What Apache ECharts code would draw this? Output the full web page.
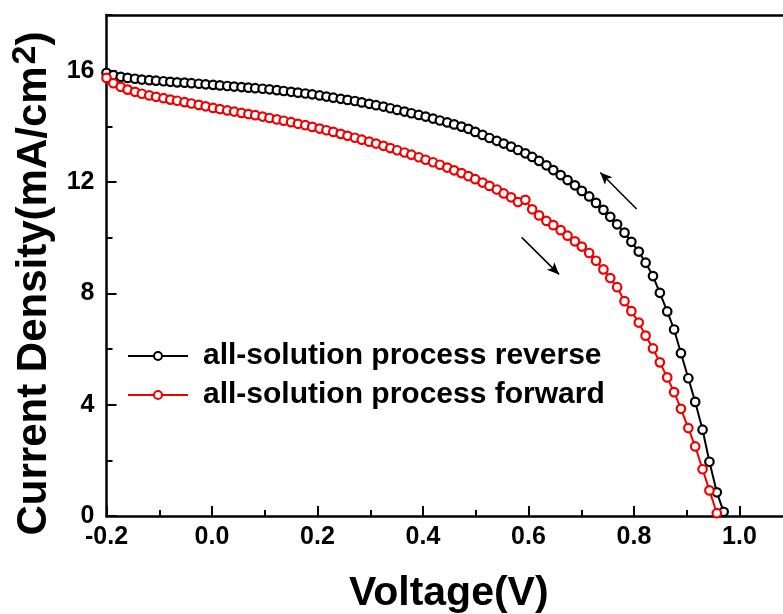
<!DOCTYPE html>
<html>
<head>
<meta charset="utf-8">
<script src="https://cdn.jsdelivr.net/npm/echarts@6/dist/echarts.min.js"></script>
<style>
  html, body { margin: 0; padding: 0; background: #fff; overflow: hidden; }
  #chart { width: 783px; height: 614px; }
</style>
</head>
<body>
<div id="chart"></div>
<script>
// Voltage sweep points (V)
const voltage = [
  -0.200, -0.187, -0.173, -0.160, -0.146, -0.133, -0.119, -0.106, -0.092, -0.079,
  -0.066, -0.052, -0.039, -0.025, -0.012, 0.002, 0.015, 0.029, 0.042, 0.056,
  0.069, 0.082, 0.096, 0.109, 0.123, 0.136, 0.150, 0.163, 0.177, 0.190,
  0.204, 0.217, 0.230, 0.244, 0.257, 0.271, 0.284, 0.298, 0.311, 0.325,
  0.338, 0.351, 0.365, 0.378, 0.392, 0.405, 0.419, 0.432, 0.446, 0.459,
  0.473, 0.486, 0.499, 0.513, 0.526, 0.540, 0.553, 0.567, 0.580, 0.594,
  0.607, 0.620, 0.634, 0.647, 0.661, 0.674, 0.688, 0.701, 0.715, 0.728,
  0.742, 0.755, 0.768, 0.782, 0.795, 0.809, 0.822, 0.836, 0.849, 0.863,
  0.876, 0.889, 0.903, 0.916, 0.930, 0.943, 0.957, 0.970
];

// Current density (mA/cm2), reverse scan
const reverseJ = [
  15.92, 15.84, 15.78, 15.74, 15.71, 15.68, 15.66, 15.64, 15.62, 15.60,
  15.58, 15.57, 15.55, 15.53, 15.51, 15.49, 15.47, 15.45, 15.43, 15.41,
  15.39, 15.37, 15.35, 15.33, 15.30, 15.27, 15.24, 15.21, 15.18, 15.15,
  15.11, 15.07, 15.03, 14.99, 14.95, 14.91, 14.86, 14.81, 14.76, 14.71,
  14.65, 14.59, 14.53, 14.47, 14.41, 14.35, 14.28, 14.21, 14.14, 14.07,
  13.99, 13.91, 13.80, 13.69, 13.58, 13.48, 13.38, 13.27, 13.15, 13.03,
  12.90, 12.76, 12.60, 12.43, 12.25, 12.07, 11.88, 11.68, 11.48, 11.25,
  11.00, 10.75, 10.48, 10.18, 9.85, 9.50, 9.10, 8.62, 8.02, 7.35,
  6.70, 5.85, 4.95, 4.10, 3.10, 1.95, 0.85, 0.15
];

// Current density (mA/cm2), forward scan
const forwardJ = [
  15.74, 15.55, 15.42, 15.32, 15.24, 15.17, 15.11, 15.06, 15.01, 14.96,
  14.92, 14.87, 14.82, 14.77, 14.72, 14.66, 14.62, 14.57, 14.53, 14.48,
  14.44, 14.40, 14.35, 14.30, 14.25, 14.20, 14.15, 14.09, 14.04, 13.98,
  13.92, 13.86, 13.80, 13.73, 13.66, 13.59, 13.52, 13.45, 13.38, 13.30,
  13.22, 13.14, 13.06, 12.98, 12.89, 12.80, 12.71, 12.62, 12.52, 12.42,
  12.32, 12.21, 12.10, 11.98, 11.86, 11.73, 11.59, 11.45, 11.28, 11.36,
  11.02, 10.80, 10.60, 10.45, 10.27, 10.07, 9.87, 9.68, 9.45, 9.17,
  8.86, 8.55, 8.22, 7.72, 7.36, 6.95, 6.48, 6.02, 5.52, 4.98,
  4.45, 3.85, 3.16, 2.50, 1.68, 0.92, 0.10
];

const seriesNames = ['all-solution process reverse', 'all-solution process forward'];

// Scan-direction arrows: [tail, head] in (V, mA/cm2)
const arrowReverse = [[0.805, 11.03], [0.736, 12.34]];
const arrowForward = [[0.587, 10.01], [0.658, 8.68]];

const FONT = 'Arial, "Liberation Sans", Helvetica, sans-serif';

function pairs(xs, ys) {
  return ys.map((y, i) => [xs[i], y]);
}

const chart = echarts.init(document.getElementById('chart'), null, { renderer: 'canvas' });

const axisLineStyle = { color: '#000', width: 2.5 };

chart.setOption({
  animation: false,
  backgroundColor: '#fff',
  // plot frame runs past the right edge of the canvas
  grid: {
    left: 106.5, width: 738.5, top: 15, bottom: 98,
    containLabel: false, outerBoundsMode: 'none'
  },
  legend: {
    orient: 'vertical',
    left: 127,
    top: 341,
    padding: 0,
    itemWidth: 60,
    itemHeight: 10,
    itemGap: 9,
    data: seriesNames,
    textStyle: {
      fontFamily: FONT, fontWeight: 'bold', fontSize: 30, color: '#000',
      padding: [0, 0, 0, 10]
    }
  },
  xAxis: [
    {
      type: 'value', gridIndex: 0, position: 'bottom',
      min: -0.2, max: 1.2, interval: 0.2,
      name: 'Voltage(V)', nameLocation: 'middle', nameGap: 57,
      nameTextStyle: {
        fontFamily: FONT, fontWeight: 'bold', fontSize: 41, color: '#000',
        padding: [0, 54, 0, 0]
      },
      axisLine: { show: true, onZero: false, lineStyle: axisLineStyle },
      axisTick: { show: true, inside: true, length: 10, lineStyle: { color: '#000', width: 2 } },
      minorTick: { show: true, splitNumber: 2, length: 6, lineStyle: { color: '#000', width: 2 } },
      splitLine: { show: false },
      minorSplitLine: { show: false },
      axisLabel: {
        fontFamily: FONT, fontWeight: 'bold', fontSize: 25, color: '#000', margin: 9,
        showMaxLabel: false,
        formatter: v => v.toFixed(1)
      }
    },
    {
      type: 'value', gridIndex: 0, position: 'top',
      min: -0.2, max: 1.2, interval: 0.2,
      axisLine: { show: true, onZero: false, lineStyle: axisLineStyle },
      axisTick: { show: false },
      axisLabel: { show: false },
      splitLine: { show: false }
    }
  ],
  yAxis: [
    {
      type: 'value', gridIndex: 0, position: 'left',
      min: 0, max: 18, interval: 4,
      name: 'Current Density(mA/cm{sup|2})',
      nameLocation: 'middle', nameGap: 44, nameRotate: 90,
      nameTextStyle: {
        fontFamily: FONT, fontWeight: 'bold', fontSize: 42, color: '#000',
        padding: [0, 36, 0, 0],
        rich: {
          sup: { fontFamily: FONT, fontWeight: 'bold', fontSize: 34, color: '#000', padding: [0, 0, 18, 2] }
        }
      },
      axisLine: { show: true, onZero: false, lineStyle: axisLineStyle },
      axisTick: { show: true, inside: true, length: 10, lineStyle: { color: '#000', width: 2 } },
      splitLine: { show: false },
      axisLabel: {
        fontFamily: FONT, fontWeight: 'bold', fontSize: 25, color: '#000', margin: 12,
        showMaxLabel: false
      }
    },
    {
      // finer ticks every 2 mA/cm2
      type: 'value', gridIndex: 0, position: 'left',
      min: 0, max: 18, interval: 2,
      axisLine: { show: false, onZero: false },
      axisTick: { show: true, inside: true, length: 6, lineStyle: { color: '#000', width: 2 } },
      axisLabel: { show: false },
      splitLine: { show: false }
    }
  ],
  series: [
    {
      name: seriesNames[0],
      type: 'line',
      xAxisIndex: 0, yAxisIndex: 0,
      data: pairs(voltage, reverseJ),
      showAllSymbol: true,
      symbol: 'circle',
      symbolSize: 8.5,
      lineStyle: { color: '#000', width: 2 },
      itemStyle: { color: '#fff', borderColor: '#000', borderWidth: 2.2 },
      markLine: {
        silent: true,
        symbol: ['none', 'arrow'],
        symbolSize: [8, 12],
        label: { show: false },
        lineStyle: { color: '#000', width: 1.5, type: 'solid' },
        data: [
          [{ coord: arrowReverse[0] }, { coord: arrowReverse[1] }],
          [{ coord: arrowForward[0] }, { coord: arrowForward[1] }]
        ]
      }
    },
    {
      name: seriesNames[1],
      type: 'line',
      xAxisIndex: 0, yAxisIndex: 0,
      data: pairs(voltage, forwardJ),
      showAllSymbol: true,
      symbol: 'circle',
      symbolSize: 8.5,
      lineStyle: { color: '#ee0000', width: 2 },
      itemStyle: { color: '#fff', borderColor: '#ee0000', borderWidth: 2.2 }
    }
  ]
});
</script>
</body>
</html>
